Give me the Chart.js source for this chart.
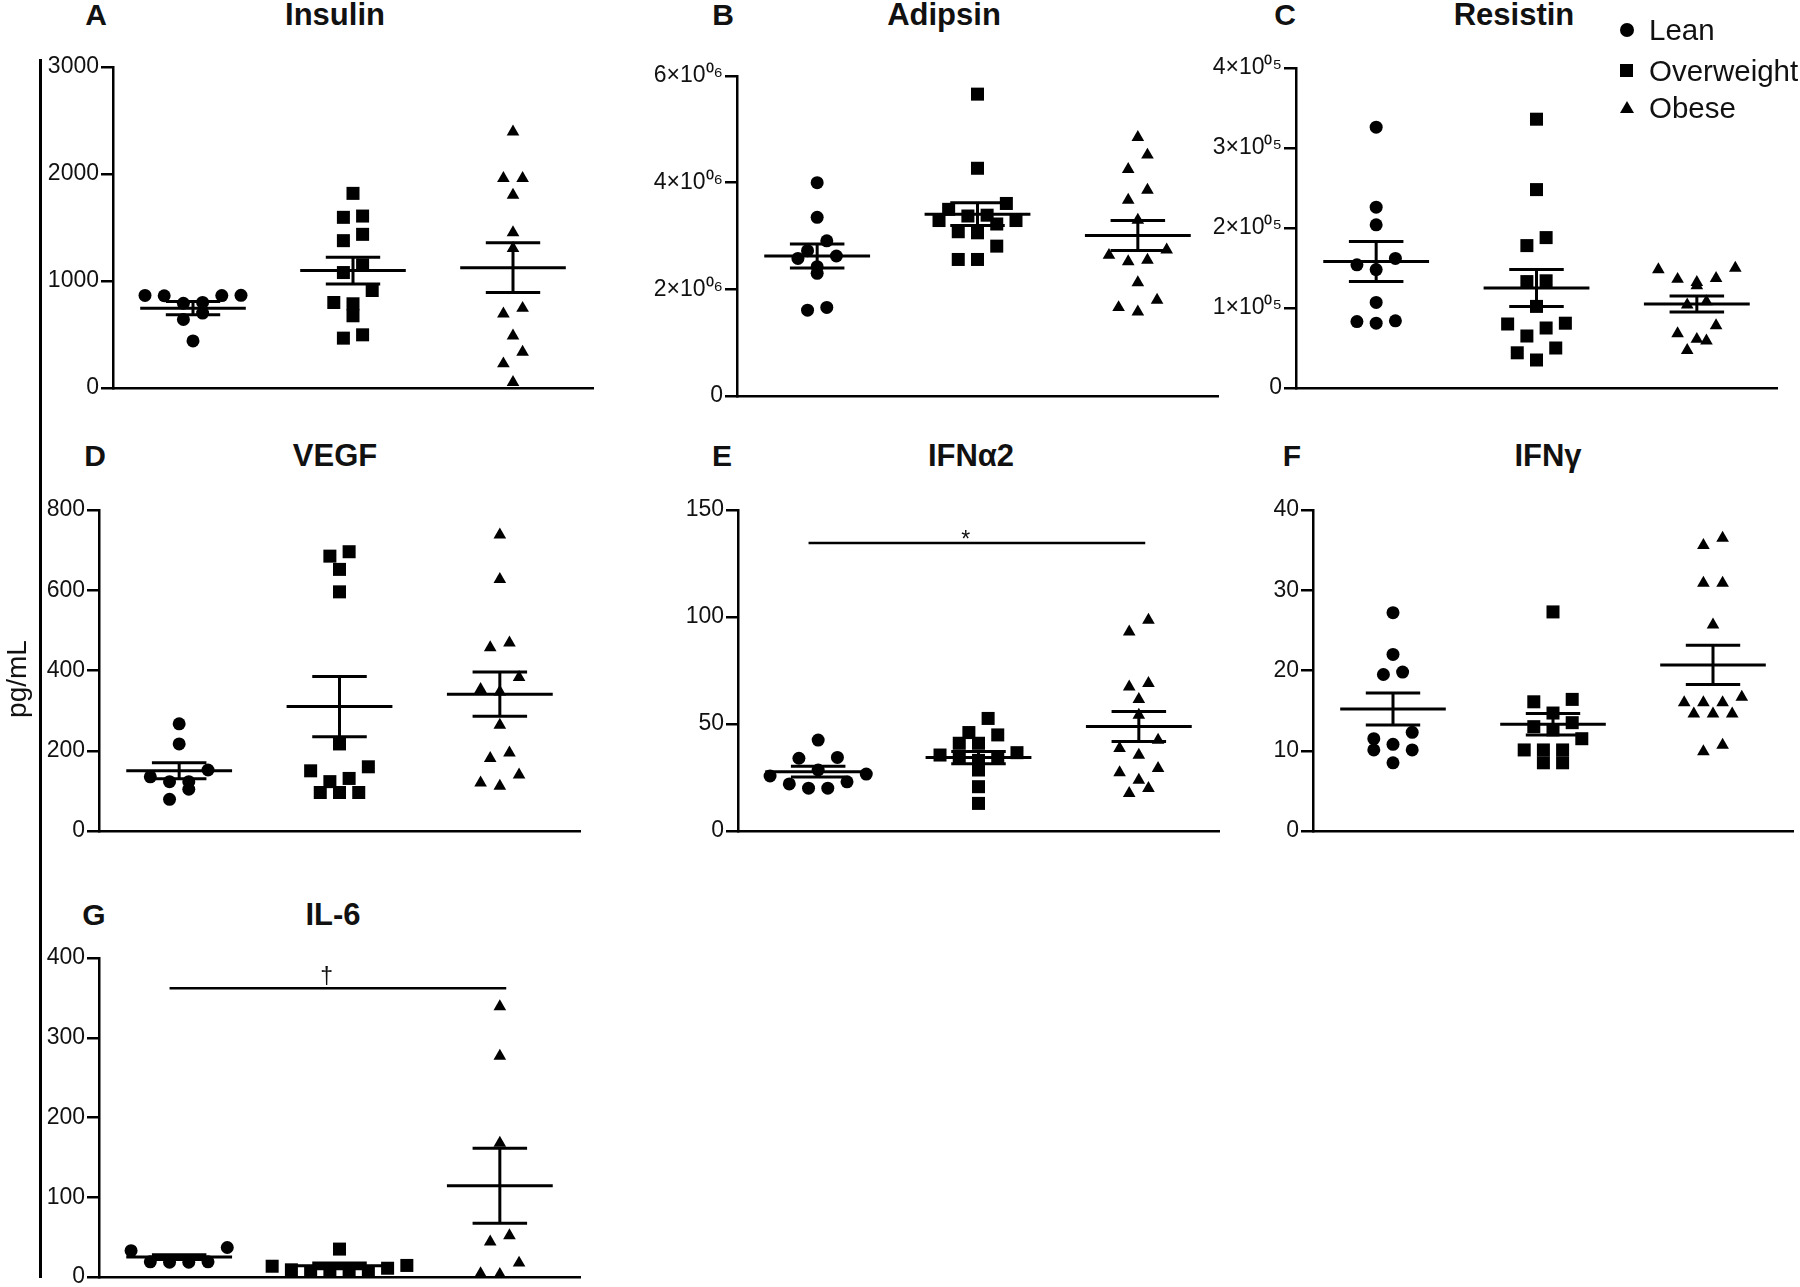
<!DOCTYPE html>
<html>
<head>
<meta charset="utf-8">
<script src="https://cdn.jsdelivr.net/npm/chart.js@4.4.6/dist/chart.umd.min.js"></script>
<style>
  body { margin: 0; background: #fff; }
  #fig { position: relative; width: 1800px; height: 1287px; overflow: hidden;
         font-family: "Liberation Sans", Arial, Helvetica, sans-serif; color: #111; }
  .abs { position: absolute; }
  .title { font-weight: bold; font-size: 31px; line-height: 30px; width: 300px; text-align: center; }
  .letter { font-weight: bold; font-size: 30px; line-height: 30px; width: 60px; text-align: center; }
  .leg { font-size: 29.5px; line-height: 28px; white-space: nowrap; }
  canvas { position: absolute; }
</style>
</head>
<body>
<div id="fig"></div>
<script>
// groups
const groups = ['Lean', 'Overweight', 'Obese']

// A  Insulin
const insulinLean = [865, 862, 866, 864, 800, 792, 700, 640, 440]
const insulinOverweight = [1819, 1607, 1595, 1436, 1377, 1150, 1079, 911, 799, 787, 675, 497, 466]
const insulinObese = [2394, 1959, 1959, 1803, 1452, 1306, 746, 693, 488, 336, 227, 53]
const insulinMean = [746, 1097, 1125]
const insulinSem = [62, 124, 232]
const insulinTicks = ['0', '1000', '2000', '3000']

// B  Adipsin
const adipsinLean = [4.0e6, 3.35e6, 2.91e6, 2.725e6, 2.625e6, 2.58e6, 2.425e6, 2.3e6, 1.66e6, 1.61e6]
const adipsinOverweight = [5.66e6, 4.27e6, 3.61e6, 3.5e6, 3.39e6, 3.375e6, 3.29e6, 3.29e6, 3.225e6, 3.08e6, 3.06e6, 2.81e6, 2.56e6, 2.56e6]
const adipsinObese = [4.85e6, 4.52e6, 4.25e6, 3.86e6, 3.675e6, 3.3e6, 2.74e6, 2.64e6, 2.55e6, 2.52e6, 2.125e6, 1.8e6, 1.66e6, 1.58e6]
const adipsinMean = [2.625e6, 3.41e6, 3.01e6]
const adipsinSem = [0.225e6, 0.215e6, 0.28e6]
const adipsinTicks = ['0', '2×10⁰⁶', '4×10⁰⁶', '6×10⁰⁶']

// C  Resistin
const resistinLean = [3.26e5, 2.26e5, 2.04e5, 1.62e5, 1.54e5, 1.48e5, 1.07e5, 0.84e5, 0.83e5, 0.81e5]
const resistinOverweight = [3.36e5, 2.48e5, 1.88e5, 1.78e5, 1.34e5, 1.33e5, 1.02e5, 0.81e5, 0.80e5, 0.75e5, 0.65e5, 0.50e5, 0.44e5, 0.35e5]
const resistinObese = [1.50e5, 1.48e5, 1.37e5, 1.36e5, 1.32e5, 1.28e5, 1.08e5, 1.04e5, 0.78e5, 0.68e5, 0.61e5, 0.59e5, 0.47e5]
const resistinMean = [1.58e5, 1.25e5, 1.05e5]
const resistinSem = [0.25e5, 0.23e5, 0.10e5]
const resistinTicks = ['0', '1×10⁰⁵', '2×10⁰⁵', '3×10⁰⁵', '4×10⁰⁵']

// D  VEGF
const vegfLean = [267, 217, 152, 135, 123, 123, 104, 79]
const vegfOverweight = [696, 685, 652, 596, 217, 160, 150, 131, 123, 96, 96, 96]
const vegfObese = [738, 627, 469, 457, 383, 353, 347, 264, 195, 181, 140, 120, 112]
const vegfMean = [150, 310, 341]
const vegfSem = [20, 75, 55]
const vegfTicks = ['0', '200', '400', '600', '800']

// E  IFNα2
const ifna2Lean = [42.5, 34.4, 34, 28.5, 26.6, 25.7, 23, 22, 20, 20]
const ifna2Overweight = [52.6, 46, 44.9, 41, 41, 36.6, 35.5, 34.5, 34, 33, 28.5, 20.7, 12.9]
const ifna2Obese = [98.6, 93.1, 69, 67.4, 61.5, 54.2, 42.5, 38.6, 35.5, 29.3, 27.3, 23.8, 19.9, 17.6]
const ifna2Mean = [27.7, 34.3, 48.8]
const ifna2Sem = [2.5, 2.9, 7.0]
const ifna2Ticks = ['0', '50', '100', '150']
const ifna2Bracket = { from: 0, to: 2, y: 134.6, label: '*' }

// F  IFNγ
const ifngLean = [27.2, 22.0, 19.8, 19.5, 12.3, 11.5, 10.8, 10.1, 10.1, 8.5]
const ifngOverweight = [27.3, 16.4, 16.1, 14.7, 13.5, 13.0, 12.6, 11.5, 10.1, 10.1, 10.1, 8.5, 8.5]
const ifngObese = [36.5, 35.6, 30.9, 30.9, 25.7, 16.7, 16.0, 16.0, 16.0, 14.6, 14.6, 14.6, 10.7, 9.9]
const ifngMean = [15.2, 13.3, 20.7]
const ifngSem = [2.0, 1.35, 2.45]
const ifngTicks = ['0', '10', '20', '30', '40']

// G  IL-6
const il6Lean = [37, 33, 19, 18.5, 18.5, 19]
const il6Overweight = [35, 14.5, 13.5, 11, 9, 6.5, 6, 6, 6]
const il6Obese = [339, 277, 168, 52, 44, 17.6, 4.2, 3.3]
const il6Mean = [25, 14, 114.5]
const il6Sem = [3, 3.5, 47]
const il6Ticks = ['0', '100', '200', '300', '400']
const il6Bracket = { from: 0, to: 2, y: 362, label: '†' }

const FONT = '"Liberation Sans", Arial, Helvetica, sans-serif'
Chart.defaults.font.family = FONT
Chart.defaults.color = '#111'

const panels = [
  { letter: 'A', title: 'Insulin', letterX: 96, titleX: 335, textTop: 0, left: 113, right: 593, top: 67, bottom: 388, max: 3000, step: 1000, ticks: insulinTicks, series: [insulinLean, insulinOverweight, insulinObese], mean: insulinMean, sem: insulinSem },
  { letter: 'B', title: 'Adipsin', letterX: 723, titleX: 944, textTop: 0, left: 737, right: 1218, top: 76, bottom: 396, max: 6e6, step: 2e6, ticks: adipsinTicks, series: [adipsinLean, adipsinOverweight, adipsinObese], mean: adipsinMean, sem: adipsinSem },
  { letter: 'C', title: 'Resistin', letterX: 1285, titleX: 1514, textTop: 0, left: 1296, right: 1777, top: 68, bottom: 388, max: 4e5, step: 1e5, ticks: resistinTicks, series: [resistinLean, resistinOverweight, resistinObese], mean: resistinMean, sem: resistinSem },
  { letter: 'D', title: 'VEGF', letterX: 95, titleX: 335, textTop: 441, left: 99, right: 580, top: 510, bottom: 831, max: 800, step: 200, ticks: vegfTicks, series: [vegfLean, vegfOverweight, vegfObese], mean: vegfMean, sem: vegfSem },
  { letter: 'E', title: 'IFNα2', letterX: 722, titleX: 971, textTop: 441, left: 738, right: 1219, top: 510, bottom: 831, max: 150, step: 50, ticks: ifna2Ticks, series: [ifna2Lean, ifna2Overweight, ifna2Obese], mean: ifna2Mean, sem: ifna2Sem, bracket: ifna2Bracket },
  { letter: 'F', title: 'IFNγ', letterX: 1292, titleX: 1548, textTop: 441, left: 1313, right: 1793, top: 510, bottom: 831, max: 40, step: 10, ticks: ifngTicks, series: [ifngLean, ifngOverweight, ifngObese], mean: ifngMean, sem: ifngSem },
  { letter: 'G', title: 'IL-6', letterX: 94, titleX: 333, textTop: 900, left: 99, right: 580, top: 958, bottom: 1277, max: 400, step: 100, ticks: il6Ticks, series: [il6Lean, il6Overweight, il6Obese], mean: il6Mean, sem: il6Sem, bracket: il6Bracket }
]

const markers = [
  { style: 'circle', radius: 6.5 },
  { style: 'rect', radius: 9.2 },
  { style: 'triangle', radius: 7.3 }
]

const fig = document.getElementById('fig')

function addDiv(cls, text, css) {
  const d = document.createElement('div')
  d.className = 'abs ' + cls
  d.textContent = text
  Object.assign(d.style, css)
  fig.appendChild(d)
  return d
}

// GraphPad-like column scatter: points close in value share a row,
// spread symmetrically, highest ones at the outer ends
function swarm(values, center, pxPerUnit) {
  const sorted = [...values].sort((a, b) => b - a)
  const out = []
  let row = []
  const flush = () => {
    const n = row.length
    const slots = new Array(n)
    let lo = 0, hi = n - 1
    row.forEach((v, k) => {
      if (k % 2 === 0) slots[hi--] = v
      else slots[lo++] = v
    })
    slots.forEach((v, k) => out.push({ x: center + (k - (n - 1) / 2) * 0.12, y: v }))
    row = []
  }
  for (const v of sorted) {
    if (row.length && (row[0] - v) * pxPerUnit >= 15) flush()
    row.push(v)
  }
  flush()
  return out
}

function errorBars(mean, sem) {
  const pts = []
  mean.forEach((m, g) => {
    const c = g + 0.5
    pts.push({ x: c - 0.33, y: m }, { x: c + 0.33, y: m }, { x: c, y: null })
    pts.push({ x: c - 0.17, y: m + sem[g] }, { x: c + 0.17, y: m + sem[g] }, { x: c, y: null })
    pts.push({ x: c - 0.17, y: m - sem[g] }, { x: c + 0.17, y: m - sem[g] }, { x: c, y: null })
    pts.push({ x: c, y: m - sem[g] }, { x: c, y: m + sem[g] }, { x: c, y: null })
  })
  return pts
}

const bracketLabel = {
  id: 'bracketLabel',
  afterDatasetsDraw(chart, args, opts) {
    if (!opts.bracket) return
    const b = opts.bracket
    const { ctx, scales } = chart
    ctx.save()
    ctx.fillStyle = '#111'
    ctx.font = '23px ' + FONT
    ctx.textAlign = 'center'
    ctx.textBaseline = 'alphabetic'
    const x = scales.x.getPixelForValue((b.from + b.to) / 2 + 0.5 - 0.08)
    const y = scales.y.getPixelForValue(b.y)
    ctx.fillText(b.label, x, b.label === '*' ? y + 4 : y - 4)
    ctx.restore()
  }
}

panels.forEach((p) => {
  addDiv('letter', p.letter, { left: (p.letterX - 30) + 'px', top: p.textTop + 'px' })
  addDiv('title', p.title, { left: (p.titleX - 150) + 'px', top: p.textTop + 'px' })

  const padL = 95, padR = 12, padT = 18, padB = 18
  const plotH = p.bottom - p.top
  const canvas = document.createElement('canvas')
  canvas.width = p.right - p.left + padL + padR
  canvas.height = plotH + padT + padB
  canvas.style.left = (p.left - padL) + 'px'
  canvas.style.top = (p.top - padT) + 'px'
  fig.appendChild(canvas)

  const pxPerUnit = plotH / p.max
  const datasets = p.series.map((vals, g) => ({
    type: 'scatter',
    label: groups[g],
    data: swarm(vals, g + 0.5, pxPerUnit),
    pointStyle: markers[g].style,
    pointRadius: markers[g].radius,
    backgroundColor: '#000',
    borderColor: '#000',
    borderWidth: 0
  }))
  datasets.push({
    type: 'line',
    label: 'mean ± SEM',
    data: errorBars(p.mean, p.sem),
    borderColor: '#000',
    borderWidth: 3,
    pointRadius: 0,
    spanGaps: false,
    borderCapStyle: 'butt'
  })
  if (p.bracket) {
    const b = p.bracket
    datasets.push({
      type: 'line',
      label: 'significance',
      data: [{ x: b.from + 0.5 - 0.06, y: b.y }, { x: b.to + 0.5 + 0.04, y: b.y }],
      borderColor: '#000',
      borderWidth: 2.5,
      pointRadius: 0
    })
  }

  new Chart(canvas, {
    type: 'scatter',
    data: { datasets },
    options: {
      responsive: false,
      devicePixelRatio: 1,
      animation: false,
      events: [],
      layout: { padding: { left: 0, right: padR, top: padT, bottom: padB } },
      plugins: { legend: { display: false }, tooltip: { enabled: false }, bracketLabel: { bracket: p.bracket } },
      scales: {
        x: {
          type: 'linear', min: 0, max: 3,
          ticks: { display: false },
          grid: { display: false },
          border: { display: true, color: '#000', width: 2.5 },
          afterFit: (s) => { s.height = 0 }
        },
        y: {
          type: 'linear', min: 0, max: p.max,
          ticks: {
            stepSize: p.step,
            padding: 2,
            color: '#111',
            font: { size: 23 },
            callback: (v, i) => p.ticks[i]
          },
          grid: { drawOnChartArea: false, drawTicks: true, tickLength: 12, lineWidth: 2.5, color: '#000' },
          border: { display: true, color: '#000', width: 2.5 },
          afterFit: (s) => { s.width = padL }
        }
      }
    },
    plugins: [bracketLabel]
  })
})

// outer y label and its line
addDiv('', '', { left: '39px', top: '59px', width: '3px', height: '1219px', background: '#000' })
addDiv('', 'pg/mL', { left: '-83px', top: '664px', width: '200px', height: '30px', lineHeight: '30px',
  fontSize: '28px', textAlign: 'center', transform: 'rotate(-90deg)' })

// legend
const legendShapes = [
  { width: '14px', height: '14px', borderRadius: '50%', background: '#000' },
  { width: '13px', height: '13px', background: '#000' },
  { width: '0px', height: '0px', borderLeft: '7px solid transparent', borderRight: '7px solid transparent', borderBottom: '12px solid #000' }
]
const legendY = [30, 71, 108]
groups.forEach((g, i) => {
  const s = addDiv('', '', legendShapes[i])
  s.style.left = (1627 - 7) + 'px'
  s.style.top = (legendY[i] - 7) + 'px'
  addDiv('leg', g, { left: '1649px', top: (legendY[i] - 14) + 'px' })
})
</script>
</body>
</html>
